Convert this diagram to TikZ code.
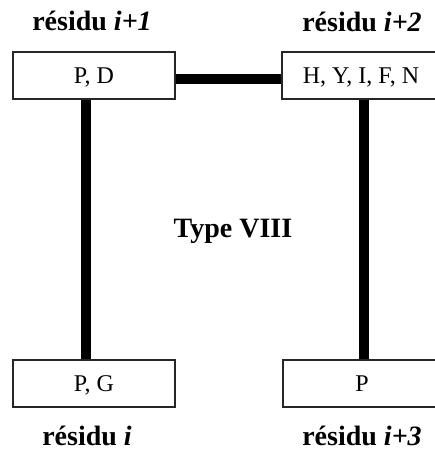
\documentclass[tikz,border=0pt]{standalone}
\usepackage{fontspec}
\setmainfont{Liberation Serif}
\begin{document}
\begin{tikzpicture}[x=1pt,y=-1pt,
  resbox/.style={draw=black!85,line width=1.3pt,fill=white,rectangle,inner sep=0pt,
    minimum height=47pt,text height=16.5pt,text depth=0pt,font=\fontsize{24}{26}\selectfont},
  reslabel/.style={anchor=base,inner sep=0pt,font=\fontsize{28}{30}\selectfont\bfseries},
  link/.style={line width=10pt,black}]
\useasboundingbox (0,0) rectangle (435,452);
\clip (0,0) rectangle (435,452);
% boxes
\node[resbox,minimum width=162pt] (a) at (94,75.5) {P, D};
\node[resbox,minimum width=158pt] (b) at (361,75.5) {H, Y, I, F, N};
\node[resbox,minimum width=162pt] (c) at (94,383.5) {P, G};
\node[resbox,minimum width=158pt] (d) at (362,383.5) {P};
% connectors
\draw[link] ([yshift=-3pt]a.east) -- ([yshift=-3pt]b.west);
\draw[link] ([xshift=-8.5pt]a.south) -- ([xshift=-8.5pt]c.north);
\draw[link] ([xshift=2.5pt]b.south) -- ([xshift=1.5pt]d.north);
% labels
\node[reslabel] (la) at (92,31) {résidu \textit{i+1}};
\node[reslabel] (lb) at (362,32) {résidu \textit{i+2}};
\node[reslabel] (lc) at (87,445) {résidu \textit{i}};
\node[reslabel] (ld) at (362,445) {résidu \textit{i+3}};
\node[reslabel] (t) at (233,237) {Type VIII};
\end{tikzpicture}
\end{document}
